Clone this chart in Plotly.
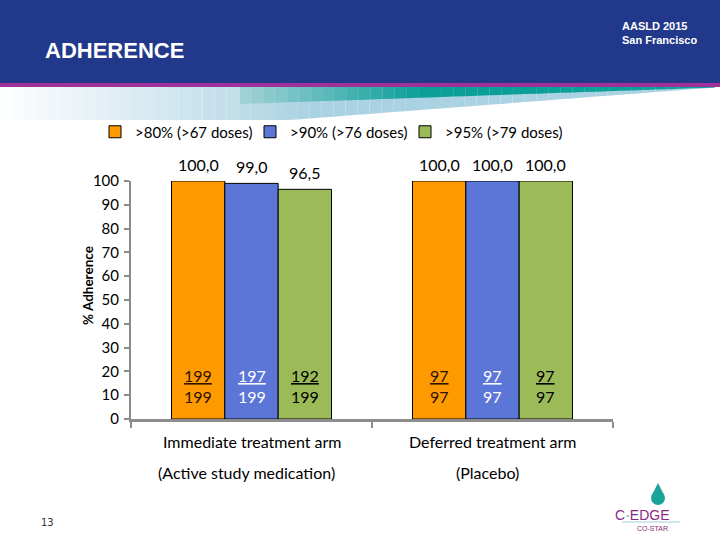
import plotly.graph_objects as go

# ---------------- data ----------------
categories = ["Immediate treatment arm", "Deferred treatment arm"]
category_sub = ["(Active study medication)", "(Placebo)"]
series_names = [">80% (>67 doses)", ">90% (>76 doses)", ">95% (>79 doses)"]
pct_80 = [100.0, 100.0]
pct_90 = [99.0, 100.0]
pct_95 = [96.5, 100.0]
num_80 = [199, 97]
num_90 = [197, 97]
num_95 = [192, 97]
denom = [199, 97]
y_ticks = [0, 10, 20, 30, 40, 50, 60, 70, 80, 90, 100]

series_values = [pct_80, pct_90, pct_95]
series_nums = [num_80, num_90, num_95]
colors = ["#FF9900", "#5B76D6", "#9BBB59"]
inner_text_colors = ["#2a1300", "#FFFFFF", "#000000"]

W, H = 720, 540
L, R, T, B = 131, 107, 181, 121
PW = W - L - R
PH = H - T - B
BARGAP = 0.336
FONT = "Lato"
NARROW = "Liberation Sans Narrow, Arial Narrow, Liberation Sans"


def px(x):
    return (x - L) / PW


def py(y):
    return (H - B - y) / PH


fig = go.Figure()
for k, (name, vals, col) in enumerate(zip(series_names, series_values, colors)):
    fig.add_trace(go.Bar(
        x=categories, y=vals, name=name,
        marker=dict(color=col, line=dict(color="#000000", width=1)),
        legendwidth=(124 if k == len(series_names) - 1 else 110),
        hoverinfo="skip",
    ))

cat_w = PW / 2
bar_w = cat_w * (1 - BARGAP) / 3
annotations = []
for i, (vals, nums, tcol) in enumerate(zip(series_values, series_nums, inner_text_colors)):
    for j, cat in enumerate(categories):
        # value above bar
        annotations.append(dict(
            x=cat, y=vals[j], xref="x", yref="y", xshift=(i - 1) * bar_w,
            xanchor="center", yanchor="bottom", yshift=5, showarrow=False,
            text=f"{vals[j]:.1f}".replace(".", ","),
            font=dict(family=FONT, size=16, color="#000000"),
        ))
        # numerator / denominator inside bar
        annotations.append(dict(
            x=cat, y=0, xref="x", yref="y", xshift=(i - 1) * bar_w,
            xanchor="center", yanchor="bottom", yshift=11, showarrow=False,
            text=f"<u>{nums[j]}</u><br>{denom[j]}",
            font=dict(family=FONT, size=16, color=tcol),
        ))


def txt(x, y, text, size, color="#000000", family=FONT, xanchor="center", **kw):
    d = dict(x=px(x), y=py(y), xref="paper", yref="paper", showarrow=False,
             xanchor=xanchor, yanchor="middle", text=text,
             font=dict(family=family, size=size, color=color))
    d.update(kw)
    return d


# category labels (two lines)
for cat, sub in zip(categories, category_sub):
    annotations.append(dict(x=cat, y=py(441), xref="x", yref="paper", showarrow=False,
                            xanchor="center", yanchor="middle",
                            text=cat, font=dict(family=FONT, size=16, color="#000000")))
    annotations.append(dict(x=cat, y=py(472), xref="x", yref="paper", showarrow=False,
                            xanchor="center", yanchor="middle", xshift=-5,
                            text=sub, font=dict(family=FONT, size=16, color="#000000")))

# y title
annotations.append(txt(88, 286, "<b>% Adherence</b>", 13.5, textangle=-90))
# header texts
annotations.append(txt(43, 50, "<b>ADHERENCE</b>", 22, "#FFFFFF", NARROW, xanchor="left"))
annotations.append(txt(620, 33, "<b>AASLD 2015<br>San Francisco</b>", 11, "#FFFFFF", NARROW,
                       xanchor="left", align="left"))
# page number
annotations.append(txt(47, 522, "13", 10, "#333344", "DejaVu Sans"))
# logo texts
annotations.append(txt(642, 515,
                       "<span style='color:#8a2a7e'>C</span><span style='color:#1aa39b'>·</span><span style='color:#8a2a7e'>EDGE</span>",
                       14, "#8a2a7e", "Liberation Sans"))
annotations.append(txt(652, 528, "CO-STAR", 7, "#8a2a7e", "Liberation Sans"))

# ---------------- header shapes ----------------
shapes = []
shapes.append(dict(type="rect", xref="paper", yref="paper", x0=px(0), x1=px(720), y0=py(0), y1=py(84),
                   fillcolor="#22388A", line=dict(width=0), layer="below"))
shapes.append(dict(type="rect", xref="paper", yref="paper", x0=px(0), x1=px(720), y0=py(83), y1=py(87),
                   fillcolor="#A0309A", line=dict(width=0), layer="below"))


def lerp(a, b, t):
    return a + (b - a) * t


def mix(c1, c2, t):
    t = max(0.0, min(1.0, t))
    return "rgb(%d,%d,%d)" % tuple(int(lerp(a, b, t)) for a, b in zip(c1, c2))


def ybot_light(x):
    if x <= 290:
        return 120.0
    return lerp(120.0, 87.5, (x - 290) / (715 - 290))


def ybot_teal(x):
    return lerp(104.0, 87.5, (x - 240) / (715 - 240))


N = 60
for k in range(N):
    x0 = 715 * k / N
    x1 = 715 * (k + 1) / N
    t = (x0 + x1) / 2 / 320
    col = mix((255, 255, 255), (170, 210, 226), t)
    path = f"M {px(x0)},{py(87)} L {px(x1)},{py(87)} L {px(x1)},{py(ybot_light(x1))} L {px(x0)},{py(ybot_light(x0))} Z"
    shapes.append(dict(type="path", xref="paper", yref="paper", path=path, fillcolor=col,
                       line=dict(width=0), layer="below"))
NT = 40
for k in range(NT):
    x0 = lerp(240, 715, k / NT)
    x1 = lerp(240, 715, (k + 1) / NT)
    t = ((x0 + x1) / 2 - 240) / 180
    col = mix((165, 210, 216), (10, 160, 152), t)
    path = f"M {px(x0)},{py(87)} L {px(x1)},{py(87)} L {px(x1)},{py(ybot_teal(x1))} L {px(x0)},{py(ybot_teal(x0))} Z"
    shapes.append(dict(type="path", xref="paper", yref="paper", path=path, fillcolor=col,
                       line=dict(width=0), layer="below"))

# logo drop
shapes.append(dict(type="circle", xref="paper", yref="paper", x0=px(651), x1=px(665), y0=py(505), y1=py(491),
                   fillcolor="#1AA39B", line=dict(width=0)))
shapes.append(dict(type="path", xref="paper", yref="paper",
                   path=f"M {px(652)},{py(495)} L {px(658)},{py(483)} L {px(664)},{py(495)} Z",
                   fillcolor="#1AA39B", line=dict(width=0)))
shapes.append(dict(type="line", xref="paper", yref="paper", x0=px(622), x1=px(680), y0=py(522), y1=py(522),
                   line=dict(color="#9fd0e0", width=1)))

fig.update_layout(
    width=W, height=H,
    margin=dict(l=L, r=R, t=T, b=B, pad=0),
    paper_bgcolor="#FFFFFF", plot_bgcolor="#FFFFFF",
    barmode="group", bargap=BARGAP, bargroupgap=0,
    font=dict(family=FONT, size=15, color="#000000"),
    showlegend=True,
    legend=dict(orientation="h", xref="container", yref="container",
                x=95 / W, xanchor="left", y=1 - 132 / H, yanchor="middle",
                entrywidth=110, entrywidthmode="pixels",
                font=dict(family=FONT, size=15, color="#000000"),
                bgcolor="rgba(0,0,0,0)", itemclick=False, itemdoubleclick=False),
    xaxis=dict(showticklabels=False, showline=True, linecolor="#8C8C8C", linewidth=2.5,
               ticks="outside", tickson="boundaries", ticklen=6, tickcolor="#8C8C8C", tickwidth=2,
               showgrid=False, zeroline=False, fixedrange=True),
    yaxis=dict(range=[0, 100], tickvals=y_ticks, showline=True, linecolor="#8C8C8C", linewidth=2,
               ticks="outside", ticklen=5, tickcolor="#8C8C8C", tickwidth=2,
               showgrid=False, zeroline=False, tickfont=dict(family=FONT, size=15, color="#000000"),
               ticklabelstandoff=2, fixedrange=True),
    annotations=annotations,
    shapes=shapes,
)

fig.write_html("out.html", config={"displayModeBar": False},
               post_script="document.body.style.margin='0px';")
